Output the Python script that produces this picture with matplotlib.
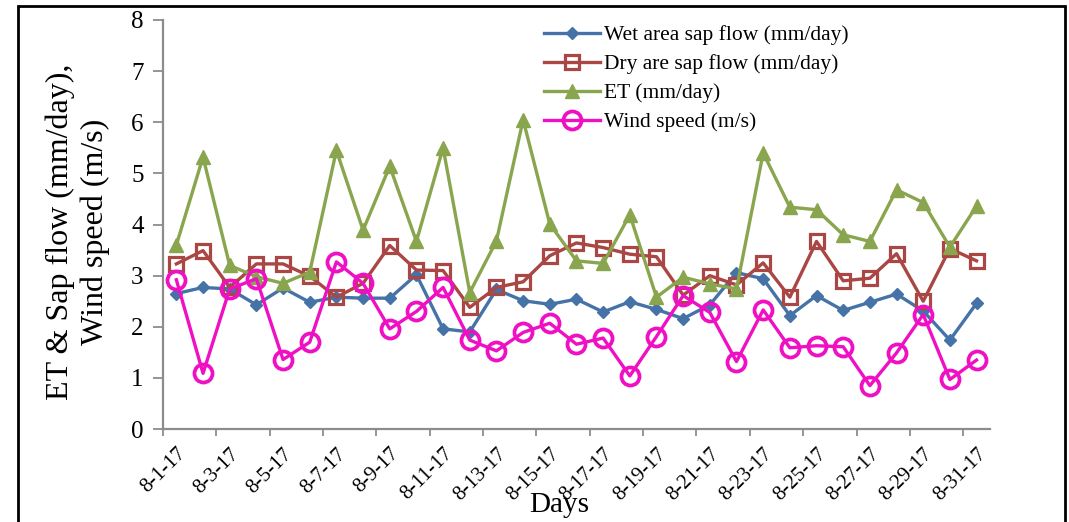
"""
Daily sap flow, ET and wind speed for August 2017.
"""

import numpy as np
import matplotlib
matplotlib.use("Agg")
import matplotlib.pyplot as plt
import matplotlib.patches as mpatches

plt.rcParams["font.family"] = ["Liberation Serif", "DejaVu Serif"]

# ─────────────────────────────────────────────────────────────────────────────
# Data
# ─────────────────────────────────────────────────────────────────────────────
days = [f"8-{d}-17" for d in range(1, 32)]

wet_sap = [2.65, 2.77, 2.74, 2.43, 2.76, 2.48, 2.58, 2.56, 2.56, 3.02, 1.96,
           1.90, 2.73, 2.51, 2.44, 2.54, 2.29, 2.49, 2.34, 2.16, 2.43, 3.06,
           2.94, 2.22, 2.61, 2.32, 2.48, 2.64, 2.31, 1.74, 2.46]
dry_sap = [3.23, 3.49, 2.77, 3.23, 3.23, 2.99, 2.58, 2.85, 3.59, 3.11, 3.10,
           2.38, 2.77, 2.88, 3.39, 3.64, 3.55, 3.42, 3.37, 2.62, 3.00, 2.82,
           3.25, 2.58, 3.67, 2.90, 2.95, 3.43, 2.50, 3.53, 3.29]
et = [3.60, 5.32, 3.20, 2.98, 2.85, 3.07, 5.45, 3.89, 5.14, 3.67, 5.50,
      2.67, 3.68, 6.05, 4.01, 3.29, 3.24, 4.19, 2.58, 2.97, 2.84, 2.74,
      5.40, 4.34, 4.29, 3.80, 3.67, 4.68, 4.43, 3.56, 4.36]
wind = [2.92, 1.09, 2.74, 2.94, 1.36, 1.70, 3.27, 2.85, 1.96, 2.30, 2.77,
        1.74, 1.53, 1.89, 2.07, 1.66, 1.78, 1.04, 1.81, 2.61, 2.28, 1.32,
        2.33, 1.59, 1.63, 1.61, 0.85, 1.49, 2.24, 0.97, 1.35]

# ─────────────────────────────────────────────────────────────────────────────
# Chart
# ─────────────────────────────────────────────────────────────────────────────
C_WET = "#4572A7"
C_DRY = "#AA4643"
C_ET = "#89A54E"
C_WIND = "#F010C4"
AXIS_GREY = "#8C8C8C"

x = np.arange(len(days))

fig = plt.figure(figsize=(10.69, 5.22), dpi=100, facecolor="white")
ax = fig.add_axes([0.1525, 0.178, 0.926 - 0.1525, 0.9617 - 0.178])

ax.plot(x, wet_sap, color=C_WET, lw=2.4, marker="D", ms=6.5,
        mfc=C_WET, mec=C_WET, label="Wet area sap flow (mm/day)")
ax.plot(x, dry_sap, color=C_DRY, lw=2.4, marker="s", ms=9.5, mew=2.3,
        mfc="none", mec=C_DRY, label="Dry are sap flow (mm/day)")
ax.plot(x, et, color=C_ET, lw=2.4, marker="^", ms=10,
        mfc=C_ET, mec=C_ET, label="ET (mm/day)")
ax.plot(x, wind, color=C_WIND, lw=2.4, marker="o", ms=13, mew=2.7,
        mfc="none", mec=C_WIND, label="Wind speed (m/s)")

ax.set_xlim(-0.5, len(days) - 0.5)
ax.set_ylim(0, 8)

# y axis
ax.set_yticks(range(0, 9))
ax.tick_params(axis="y", direction="out", length=7, width=1.3,
               color=AXIS_GREY, labelsize=18, pad=7)

# x axis: tick marks between categories every 2 days, labels on odd days
ax.set_xticks(np.arange(-0.5, len(days) - 1, 2))
ax.set_xticklabels([])
ax.tick_params(axis="x", which="major", direction="out", length=5,
               width=1.3, color=AXIS_GREY)
ax.set_xticks(x[::2], minor=True)
ax.set_xticklabels(days[::2], minor=True, rotation=45, ha="right",
                   rotation_mode="anchor", fontsize=15)
ax.tick_params(axis="x", which="minor", length=0, pad=11)

for side in ["top", "right"]:
    ax.spines[side].set_visible(False)
for side in ["left", "bottom"]:
    ax.spines[side].set_color(AXIS_GREY)
    ax.spines[side].set_linewidth(1.6)

fig.text(559 / 1069, 1 - 505 / 522, "Days", ha="center", va="center",
         fontsize=21)
fig.text(78 / 1069, 1 - 232 / 522, "ET & Sap flow (mm/day),\nWind speed (m/s)",
         ha="center", va="center", rotation=90, fontsize=23, linespacing=1.25)

ax.legend(loc="upper left", bbox_to_anchor=(544 / 1069, 1 - 25 / 522),
          bbox_transform=fig.transFigure, frameon=False, fontsize=15.5,
          handlelength=2.6, handletextpad=0.2, labelspacing=0.42,
          borderpad=0, borderaxespad=0)

# outer chart border (bottom edge cropped away in the original)
fig.patches.append(mpatches.Rectangle(
    (18 / 1069, -0.05), (1065 - 18) / 1069, 1.05 - 6 / 522,
    transform=fig.transFigure, fill=False, edgecolor="black", linewidth=2))

plt.savefig("out.png", dpi=100, facecolor="white")
plt.close()
